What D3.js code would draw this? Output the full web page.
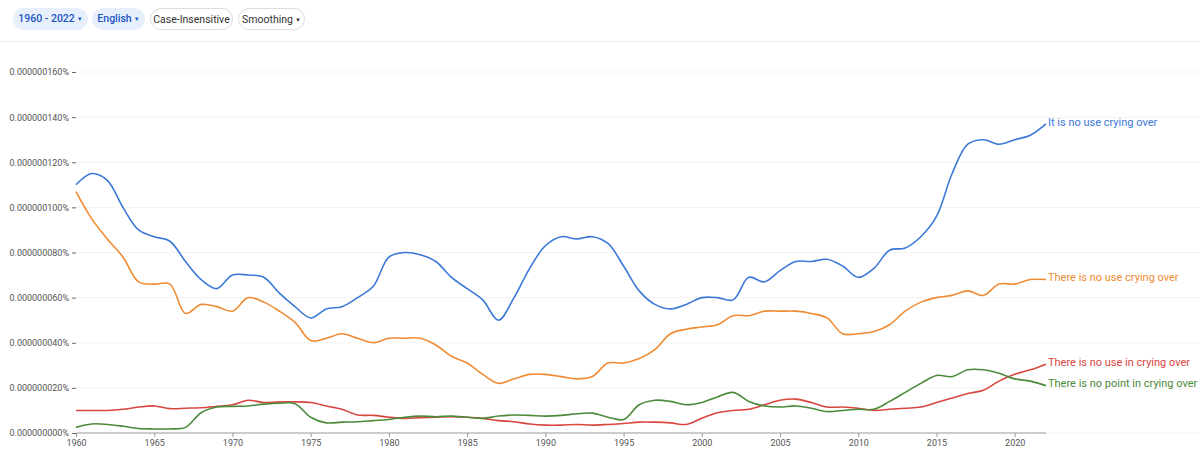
<!DOCTYPE html>
<html>
<head>
<meta charset="utf-8">
<script src="https://cdn.jsdelivr.net/npm/d3@7"></script>
<style>
body { margin: 0; background: #fff; font-family: Roboto, "Noto Sans", sans-serif; }
.chip { position: absolute; top: 8px; height: 22px; line-height: 21px; border-radius: 12px; font-size: 10.5px; padding: 0; box-sizing: border-box; white-space: nowrap; text-align: center; }
.blue { background: #e8effc; color: #1a56c4; font-weight: 500; }
.plain { border: 1px solid #dedede; color: #333; }
.caret { font-size: 6px; vertical-align: 1px; margin-left: 2px; }
</style>
</head>
<body>
<div class="chip blue" style="left:13px;width:75px">1960 - 2022<span class="caret">&#9660;</span></div>
<div class="chip blue" style="left:92px;width:53px">English<span class="caret">&#9660;</span></div>
<div class="chip plain" style="left:150px;width:83px">Case-Insensitive</div>
<div class="chip plain" style="left:238px;width:67px">Smoothing<span class="caret">&#9660;</span></div>
<div style="position:absolute;top:41px;left:0;width:1200px;height:1px;background:#eee"></div>
<svg id="chart" width="1200" height="457" style="position:absolute;top:0;left:0"></svg>
<script>
var years = d3.range(1960, 2023);
var names = ["It is no use crying over", "There is no use crying over", "There is no use in crying over", "There is no point in crying over"];
var colors = ["#3b78d8", "#f08b33", "#d9453f", "#4a8a3a"];
var blue = [110,115,112,100,90,87,85,76,68,64,70,70,69,62,56,51,55,56,60,65,78,80,79,76,69,64,59,50,60,73,83,87,86,87,84,74,63,57,55,57,60,60,59,69,67,72,76,76,77,74,69,73,81,82,87,96,115,128,130,128,130,132,137];
var orange = [107,95,86,78,67,66,66,53,57,56,54,60,58,54,49,41,42,44,42,40,42,42,42,39,34,31,26,22,24,26,26,25,24,25,31,31,33,37,44,46,47,48,52,52,54,54,54,53,51,44,44,45,48,54,58,60,61,63,61,66,66,68,68];
var red = [10,10,10,10.5,11.5,12,10.8,11,11.2,11.8,12.5,14.5,13.5,13.8,13.8,13.5,12,10.5,8,7.8,7,6.5,6.8,7,7.2,7,6.5,5.5,5,4,3.5,3.5,3.8,3.5,3.8,4.2,4.8,4.8,4.5,3.8,6.5,9,10,10.5,12.5,14.5,15,13.5,11.5,11.5,11,10,10.5,11,11.5,13.5,15.5,17.5,19,23,26,28,30.5];
var green = [2.5,4,3.8,3,2,1.8,1.8,2.5,9,11.5,11.8,12,12.8,13.2,13,7,4.5,4.8,5,5.5,6,7,7.5,7.2,7.5,7,6.5,7.5,8,7.8,7.5,7.8,8.5,8.8,7,6,12.5,14.5,14,12.5,13.5,16,18,14,12,11.5,12,11,9.5,10,10.5,10.5,14,18,22,25.5,25,28,28,26.5,24,23,21];
var series = [blue, orange, red, green];
var yTicks = [0, 20, 40, 60, 80, 100, 120, 140, 160];
var labelY = [122, 277, 362, 383];

var svg = d3.select("#chart");
var x = d3.scaleLinear().domain([1960, 2022]).range([76, 1046]);
var y = d3.scaleLinear().domain([0, 160]).range([433, 72]);

yTicks.forEach(function (t) {
    svg.append("line").attr("x1", 76).attr("x2", 1200).attr("y1", y(t)).attr("y2", y(t))
        .attr("stroke", "#f3f3f3");
});
var ya = svg.append("g").attr("transform", "translate(76,0)")
    .call(d3.axisLeft(y).tickValues(yTicks).tickSize(4).tickPadding(3)
        .tickFormat(function (d) { return (d / 1e9).toFixed(9) + "%"; }));
ya.select(".domain").remove();
ya.selectAll("line").attr("stroke", "#666");
ya.selectAll("text").attr("fill", "#555").style("font-size", "9px").style("font-family", "Roboto");

var xa = svg.append("g").attr("transform", "translate(0,433)")
    .call(d3.axisBottom(x).tickValues(d3.range(1960, 2021, 5))
        .tickFormat(d3.format("d")).tickSize(4));
xa.select(".domain").attr("stroke", "#ccc").attr("stroke-width", 2).attr("d", "M76,0H1046");
xa.selectAll("line").attr("stroke", "#999");
xa.selectAll("text").attr("fill", "#555").style("font-size", "9px").style("font-family", "Roboto");

var line = d3.line().curve(d3.curveCatmullRom.alpha(0.5))
    .x(function (d, i) { return x(years[i]); })
    .y(function (d) { return y(d); });

series.forEach(function (s, i) {
    svg.append("path").attr("d", line(s)).attr("fill", "none")
        .attr("stroke", colors[i]).attr("stroke-width", 1.6);
    svg.append("text").attr("x", 1048).attr("y", labelY[i]).attr("dy", "0.35em")
        .attr("fill", colors[i]).style("font-size", "11px").style("font-family", "Roboto")
        .text(names[i]);
});
</script>
</body>
</html>
